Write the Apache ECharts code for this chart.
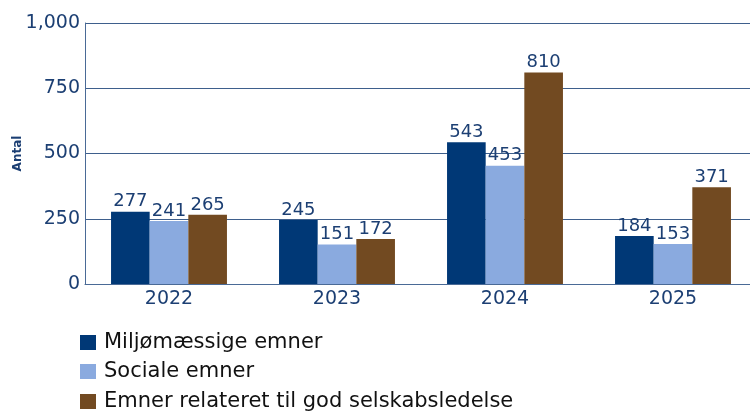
<!DOCTYPE html>
<html>
<head>
<meta charset="utf-8">
<script src="https://cdn.jsdelivr.net/npm/echarts@6/dist/echarts.min.js"></script>
<style>
  html, body { margin: 0; padding: 0; background: #fff; }
  #chart { width: 750px; height: 414px; }
</style>
</head>
<body>
<div id="chart"></div>
<script>
const years = ['2022', '2023', '2024', '2025'];
const seriesNames = ['Miljømæssige emner', 'Sociale emner', 'Emner relateret til god selskabsledelse'];
const environmental = [277, 245, 543, 184];
const social = [241, 151, 453, 153];
const governance = [265, 172, 810, 371];
const colors = ['#003876', '#8aaadf', '#724a21'];

const textBlue = '#1c3f73';
const numFont = '"DejaVu Sans", Verdana, sans-serif';
const chart = echarts.init(document.getElementById('chart'));

const makeSeries = (name, data, color) => ({
    name: name,
    type: 'bar',
    data: data,
    barGap: '0%',
    barCategoryGap: '31%',
    itemStyle: {color: color},
    label: {
        show: true,
        position: 'top',
        distance: 1,
        color: textBlue,
        fontFamily: numFont,
        fontSize: 18,
    },
});

// One legend per series so each line sits where the reference puts it.
const legendTops = [332, 361, 391];
const legends = seriesNames.map((name, i) => ({
    orient: 'vertical',
    left: 80,
    top: legendTops[i],
    padding: 0,
    itemWidth: 16,
    itemHeight: 15,
    icon: 'rect',
    textStyle: {color: '#111', fontSize: 21, fontFamily: numFont, padding: [0, 0, 14, 3]},
    data: [name],
}));

chart.setOption({
    animation: false,
    grid: {left: 85, top: 23, width: 672, height: 261, outerBoundsMode: 'none'},
    legend: legends,
    xAxis: {
        type: 'category',
        data: years,
        axisLine: {lineStyle: {color: '#4a6a96', width: 1}},
        axisTick: {alignWithLabel: true, length: 4, lineStyle: {color: '#4a6a96'}},
        axisLabel: {color: textBlue, fontSize: 19, fontFamily: numFont, margin: 6},
    },
    yAxis: {
        type: 'value',
        min: 0,
        max: 1000,
        interval: 250,
        name: 'Antal',
        nameLocation: 'middle',
        nameGap: 61,
        nameMoveOverlap: false,
        nameTextStyle: {color: textBlue, fontSize: 12, fontWeight: 'bold', fontFamily: numFont},
        axisLine: {show: true, lineStyle: {color: '#4a6a96', width: 1}},
        axisTick: {show: false},
        splitLine: {lineStyle: {color: '#3e5f8c', width: 1}},
        axisLabel: {
            color: textBlue,
            fontSize: 19,
            fontFamily: numFont,
            margin: 5,
            formatter: (v) => v.toLocaleString('en-US'),
        },
    },
    series: [
        makeSeries(seriesNames[0], environmental, colors[0]),
        makeSeries(seriesNames[1], social, colors[1]),
        makeSeries(seriesNames[2], governance, colors[2]),
    ],
});
</script>
</body>
</html>
